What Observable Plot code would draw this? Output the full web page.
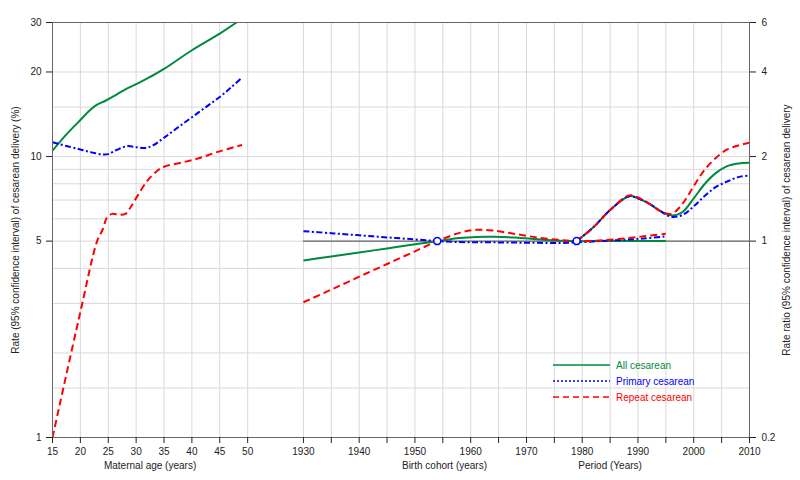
<!DOCTYPE html>
<html>
<head>
<meta charset="utf-8">
<script src="https://cdn.jsdelivr.net/npm/d3@7"></script>
<script src="https://cdn.jsdelivr.net/npm/@observablehq/plot@0.6"></script>
<style>
  body { margin: 0; background: #fff; }
  #chart { width: 800px; height: 480px; }
</style>
</head>
<body>
<div id="chart"></div>
<script>
// ---------- Data ----------
// Maternal age effect: rate (%)
const ageAllX = [15, 17.5, 20, 22, 23, 24.5, 26, 28, 30, 32.5, 35, 40, 45, 48, 49];
const ageAllY = [10.5, 12.0, 13.5, 14.8, 15.3, 15.8, 16.4, 17.3, 18.1, 19.2, 20.5, 23.9, 27.4, 30, 31];

const agePrimX = [15, 17.5, 20, 22, 24, 25, 26.5, 28.4, 30, 31.5, 33, 35, 37.5, 40, 42.5, 45, 47, 49];
const agePrimY = [11.25, 10.9, 10.6, 10.35, 10.17, 10.2, 10.55, 10.89, 10.8, 10.72, 10.95, 11.67, 12.7, 13.8, 15.0, 16.3, 17.6, 19.1];

const ageRepX = [15, 20, 23, 24, 24.8, 25.7, 27, 28.1, 29, 30.1, 32, 33.8, 35, 38.5, 41.5, 44.5, 49];
const ageRepY = [1.0, 2.8, 5.0, 5.5, 6.08, 6.25, 6.2, 6.25, 6.6, 7.17, 8.2, 8.9, 9.2, 9.55, 9.9, 10.37, 11.0];

// Birth cohort effect: rate ratio (reference 1954)
const cohortYears = [1930, 1935, 1940, 1945, 1950, 1954, 1958, 1961, 1964, 1968, 1972, 1976, 1979, 1983, 1987, 1991, 1995];
const cohortAll  = [0.853, 0.882, 0.911, 0.942, 0.974, 1.0, 1.025, 1.035, 1.036, 1.03, 1.015, 1.003, 1.0, 1.0, 1.0, 1.0, 1.0];
const cohortPrim = [1.085, 1.067, 1.049, 1.031, 1.014, 1.0, 0.992, 0.99, 0.99, 0.988, 0.986, 0.985, 0.99, 1.0, 1.01, 1.022, 1.04];
const cohortRep  = [0.606, 0.672, 0.747, 0.829, 0.92, 1.0, 1.07, 1.097, 1.09, 1.06, 1.03, 1.01, 1.0, 1.005, 1.02, 1.04, 1.062];

// Period effect: rate ratio (reference 1979)
const periodYears = [1979, 1982, 1985, 1988.4, 1990, 1992, 1994, 1996, 1998, 2000, 2002, 2004, 2006, 2008, 2010];
const periodAll  = [1.0, 1.12, 1.29, 1.445, 1.42, 1.36, 1.28, 1.235, 1.27, 1.42, 1.60, 1.75, 1.85, 1.89, 1.90];
const periodPrim = [1.0, 1.12, 1.29, 1.445, 1.42, 1.36, 1.28, 1.22, 1.24, 1.33, 1.45, 1.56, 1.63, 1.69, 1.71];
const periodRep  = [1.0, 1.12, 1.29, 1.455, 1.43, 1.36, 1.28, 1.25, 1.36, 1.57, 1.80, 1.98, 2.12, 2.19, 2.24];

const refPoints = [1954, 1979];           // reference cohort & period (ratio 1)

// Ticks
const ageTicks = [15, 20, 25, 30, 35, 40, 45, 50];
const yearLabelTicks = [1930, 1940, 1950, 1960, 1970, 1980, 1990, 2000, 2010];
const yearMinorTicks = [1935, 1945, 1955, 1965, 1975, 1985, 1995, 2005];
const rateTicks = [1, 5, 10, 20, 30];
const rateGrid = [1, 1.5, 2, 3, 4, 5, 6, 7, 8, 9, 10, 15, 20, 30];

const series = [
  {key: "All cesarean", color: "#008a3e", dash: null, legendDash: null},
  {key: "Primary cesarean", color: "#0000ff", dash: "6,2.5,2,2.5", legendDash: "2,2"},
  {key: "Repeat cesarean", color: "#ff0000", dash: "7,4", legendDash: "6,4"}
];

// ---------- Build tables ----------
const YEAR_OFFSET = 1870;               // calendar year -> shared x position (1930 sits 10 units after age 50)
const ux = y => y - YEAR_OFFSET;
const RATE_REF = 5;                     // rate ratio 1 corresponds to rate 5 %

function rows(name, part, xs, ys, isYear, isRatio) {
  return xs.map((x, i) => ({series: name, part, x: isYear ? ux(x) : x, y: isRatio ? ys[i] * RATE_REF : ys[i]}));
}
const data = [
  ...rows("All cesarean", "age", ageAllX, ageAllY, false, false),
  ...rows("Primary cesarean", "age", agePrimX, agePrimY, false, false),
  ...rows("Repeat cesarean", "age", ageRepX, ageRepY, false, false),
  ...rows("All cesarean", "cohort", cohortYears, cohortAll, true, true),
  ...rows("Primary cesarean", "cohort", cohortYears, cohortPrim, true, true),
  ...rows("Repeat cesarean", "cohort", cohortYears, cohortRep, true, true),
  ...rows("All cesarean", "period", periodYears, periodAll, true, true),
  ...rows("Primary cesarean", "period", periodYears, periodPrim, true, true),
  ...rows("Repeat cesarean", "period", periodYears, periodRep, true, true)
];

const gridX = [...ageTicks, ...d3.range(1930, 2011, 5).map(ux)];
const fmtX = v => (v >= 60 ? String(v + YEAR_OFFSET) : String(v));

const bottomTitles = [
  {x: 32.5, text: "Maternal age (years)"},
  {x: ux(1955.3), text: "Birth cohort (years)"},
  {x: ux(1985), text: "Period (Years)"}
];

// legend drawn as a custom mark relative to the frame
function legendMark(index, scales, values, dims) {
  const g = d3.create("svg:g");
  const right = dims.width - dims.marginRight;
  const bottom = dims.height - dims.marginBottom;
  series.forEach((s, i) => {
    const y = bottom - 72 + i * 16;
    g.append("line")
      .attr("x1", right - 196).attr("x2", right - 139)
      .attr("y1", y).attr("y2", y)
      .attr("stroke", s.color).attr("stroke-width", 1.6)
      .attr("stroke-dasharray", s.legendDash);
    g.append("text")
      .attr("x", right - 133).attr("y", y)
      .attr("dy", "0.35em")
      .attr("text-anchor", "start")
      .attr("fill", s.color)
      .attr("font-size", 10)
      .text(s.key);
  });
  return g.node();
}

const lineMarks = series.map(s =>
  Plot.line(data.filter(d => d.series === s.key), {
    x: "x", y: "y", z: "part",
    stroke: s.color, strokeWidth: 2,
    strokeDasharray: s.dash, strokeLinecap: "butt",
    curve: "catmull-rom", clip: true
  })
);

const chart = Plot.plot({
  width: 800,
  height: 480,
  marginLeft: 52,
  marginRight: 51,
  marginTop: 22,
  marginBottom: 43,
  style: {fontFamily: "'Liberation Sans', Arial, sans-serif", fontSize: "10px", color: "#222", background: "#fff"},
  x: {domain: [15, 140]},
  y: {type: "log", domain: [1, 30]},
  marks: [
    Plot.ruleX(gridX, {stroke: "#d9d9d9", strokeWidth: 1}),
    Plot.ruleY(rateGrid, {stroke: "#d9d9d9", strokeWidth: 1}),
    Plot.ruleY([RATE_REF], {x1: ux(1930), x2: ux(2010), stroke: "#444", strokeWidth: 1}),
    ...lineMarks,
    Plot.dot(refPoints, {x: d => ux(d), y: () => RATE_REF, r: 3.5, stroke: "#0000ff", fill: "#fff", strokeWidth: 1.5}),
    Plot.frame({stroke: "#666"}),
    Plot.axisY({anchor: "left", ticks: rateTicks, tickFormat: d => String(d), tickSize: 6, tickPadding: 5, label: null}),
    Plot.axisY({anchor: "right", ticks: rateTicks, tickFormat: d => String(d / RATE_REF), tickSize: 6, tickPadding: 6, label: null}),
    Plot.axisX({ticks: [...ageTicks, ...yearLabelTicks.map(ux)], tickFormat: fmtX, tickSize: 6, tickPadding: 4, label: null}),
    Plot.axisX({ticks: yearMinorTicks.map(ux), tickFormat: () => "", tickSize: 6, label: null}),
    Plot.text(["Rate (95% confidence interval) of cesarean delivery (%)"], {frameAnchor: "left", textAnchor: "middle", rotate: -90, dx: -37, fontSize: 10}),
    Plot.text(["Rate ratio (95% confidence interval) of cesarean delivery"], {frameAnchor: "right", textAnchor: "middle", rotate: -90, dx: 37, fontSize: 10}),
    Plot.text(bottomTitles, {x: "x", text: "text", frameAnchor: "bottom", dy: 31, fontSize: 10}),
    legendMark
  ]
});
document.getElementById("chart").appendChild(chart);
</script>
</body>
</html>
